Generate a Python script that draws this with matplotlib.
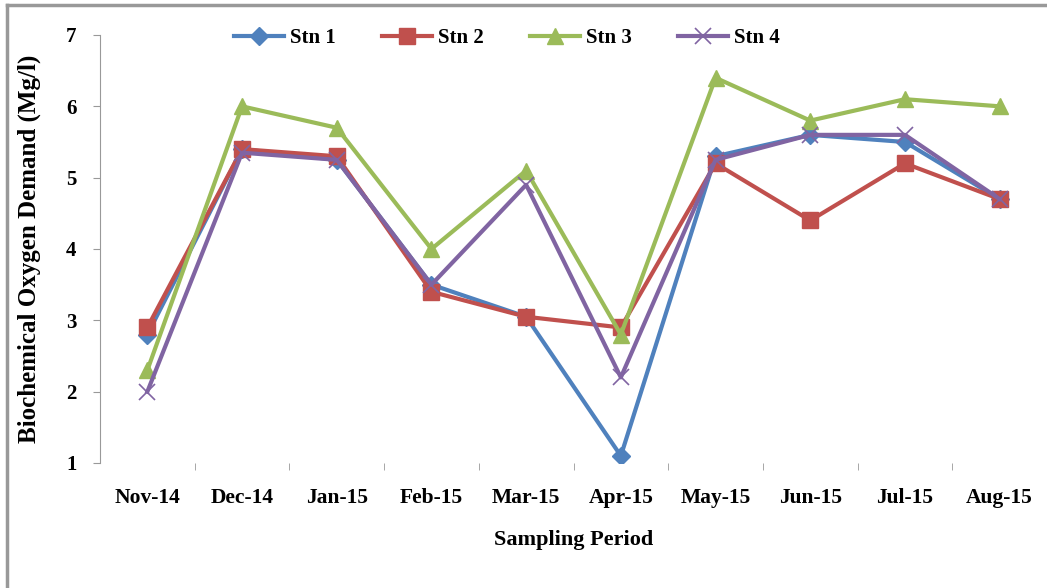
import matplotlib.pyplot as plt
from matplotlib.lines import Line2D

months = ["Nov-14", "Dec-14", "Jan-15", "Feb-15", "Mar-15",
          "Apr-15", "May-15", "Jun-15", "Jul-15", "Aug-15"]
stn1 = [2.8, 5.4, 5.25, 3.5, 3.05, 1.1, 5.3, 5.6, 5.5, 4.7]
stn2 = [2.9, 5.4, 5.3, 3.4, 3.05, 2.9, 5.2, 4.4, 5.2, 4.7]
stn3 = [2.3, 6.0, 5.7, 4.0, 5.1, 2.8, 6.4, 5.8, 6.1, 6.0]
stn4 = [2.0, 5.35, 5.25, 3.5, 4.9, 2.2, 5.25, 5.6, 5.6, 4.7]

plt.rcParams["font.family"] = ["Liberation Serif", "DejaVu Serif"]
plt.rcParams["font.weight"] = "bold"

fig = plt.figure(figsize=(10.47, 5.88), dpi=100)
ax = fig.add_axes([100 / 1047, 125 / 588, 947 / 1047, 428 / 588])

x = range(len(months))
ax.plot(x, stn1, color="#4F81BD", lw=3, marker="D", ms=9, label="Stn 1")
ax.plot(x, stn2, color="#C0504D", lw=3, marker="s", ms=12, label="Stn 2")
ax.plot(x, stn3, color="#9BBB59", lw=3, marker="^", ms=12, label="Stn 3")
ax.plot(x, stn4, color="#8064A2", lw=3, marker="x", ms=12, mew=1.2,
        label="Stn 4")

ax.set_xlim(-0.5, len(months) - 0.5)
ax.set_ylim(1, 7)
ax.set_yticks(range(1, 8))
ax.set_xticks(list(x))
ax.set_xticklabels(months)
ax.tick_params(axis="x", length=0, pad=18, labelsize=15.5)
ax.tick_params(axis="y", length=5, color="#999999", pad=12, labelsize=15)
# category separators along the bottom, Excel style
ax.set_xticks([i + 0.5 for i in range(len(months) - 1)], minor=True)
ax.tick_params(axis="x", which="minor", length=5, color="#999999",
               direction="out")

for s in ["top", "right", "bottom"]:
    ax.spines[s].set_visible(False)
ax.spines["left"].set_color("#999999")

ax.set_xlabel("Sampling Period", fontsize=16, fontweight="bold", labelpad=16)
ax.set_ylabel("Biochemical Oxygen Demand (Mg/l)", fontsize=18,
              fontweight="bold", labelpad=18)

fig.legend(loc="center", bbox_to_anchor=(507 / 1047, 1 - 38 / 588), ncol=4,
           frameon=False, fontsize=15, handlelength=2.4, columnspacing=2.2,
           handletextpad=0.3)

# outer border of the chart area (top and left edges)
fig.add_artist(Line2D([7 / 1047, 7 / 1047], [0, 1 - 5 / 588],
                      transform=fig.transFigure, color="#999999", lw=2.5))
fig.add_artist(Line2D([7 / 1047, 1], [1 - 5 / 588, 1 - 5 / 588],
                      transform=fig.transFigure, color="#999999", lw=2.5))

fig.savefig("out.png", dpi=100)
